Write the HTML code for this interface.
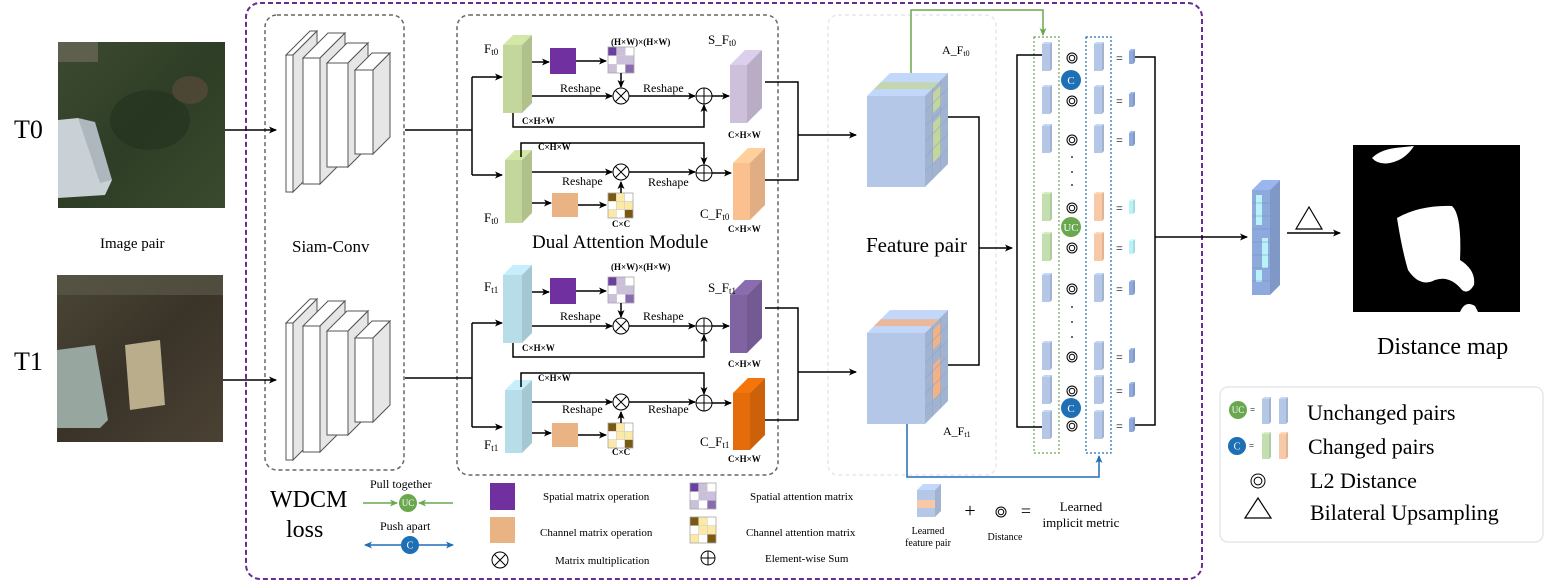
<!DOCTYPE html>
<html><head><meta charset="utf-8"><style>
html,body{margin:0;padding:0;background:#fff;}
svg{display:block;font-family:"Liberation Serif",serif;}
.b{font-weight:bold;font-size:9px;}
.r{font-size:12px;}
</style></head><body>
<svg id="s" width="1548" height="585" viewBox="0 0 1548 585" xmlns="http://www.w3.org/2000/svg">
<defs>
<marker id="ak" markerWidth="8" markerHeight="8" refX="7" refY="4" orient="auto" markerUnits="userSpaceOnUse"><path d="M0,0.5 L8,4 L0,7.5 L2,4z" fill="#000"/></marker>
<marker id="ag" markerWidth="8" markerHeight="8" refX="7" refY="4" orient="auto" markerUnits="userSpaceOnUse"><path d="M0,0.5 L8,4 L0,7.5 L2,4z" fill="#6aa84f"/></marker>
<marker id="ab" markerWidth="8" markerHeight="8" refX="7" refY="4" orient="auto" markerUnits="userSpaceOnUse"><path d="M0,0.5 L8,4 L0,7.5 L2,4z" fill="#1f6fb5"/></marker>
<linearGradient id="g0" x1="0" y1="0" x2="1" y2="1"><stop offset="0" stop-color="#3d4a30"/><stop offset=".5" stop-color="#2e3e26"/><stop offset="1" stop-color="#3a4a2e"/></linearGradient>
<linearGradient id="g1" x1="0" y1="0" x2="1" y2="1"><stop offset="0" stop-color="#4a4636"/><stop offset=".5" stop-color="#3a3328"/><stop offset="1" stop-color="#4b4234"/></linearGradient>
</defs>

<!-- frames -->
<rect x="246" y="3" width="956" height="576" rx="14" fill="none" stroke="#6a2d8f" stroke-width="2" stroke-dasharray="5,3"/>
<rect x="265" y="15" width="139" height="455" rx="12" fill="none" stroke="#666" stroke-width="1.5" stroke-dasharray="4,3"/>
<rect x="457" y="15" width="321" height="460" rx="12" fill="none" stroke="#666" stroke-width="1.5" stroke-dasharray="4,3"/>
<rect x="828" y="15" width="168" height="460" rx="10" fill="none" stroke="#e4e8ee" stroke-width="1.5" stroke-dasharray="4,3"/>
<rect x="1220" y="387" width="323" height="155" rx="8" fill="#fff" stroke="#dde3ea" stroke-width="1.2"/>

<!-- images -->
<rect x="58" y="42" width="167" height="166" fill="url(#g0)"/>
<ellipse cx="150" cy="120" rx="40" ry="30" fill="#253420" opacity=".8"/>
<ellipse cx="190" cy="90" rx="18" ry="14" fill="#5a4a3c" opacity=".7"/>
<polygon points="58,120 78,118 112,180 105,195 58,198" fill="#c9d1d6"/>
<polygon points="78,118 95,122 112,180 100,183" fill="#aeb7bd"/>
<rect x="58" y="42" width="40" height="20" fill="#6e6a5a" opacity=".7"/>
<rect x="57" y="275" width="166" height="167" fill="url(#g1)"/>
<polygon points="57,350 95,345 108,420 100,428 57,428" fill="#97a69f"/>
<polygon points="125,345 160,340 165,405 130,410" fill="#b9ad8c"/>
<rect x="57" y="275" width="166" height="20" fill="#5a5848" opacity=".7"/>
<text x="14" y="138" font-size="26">T0</text>
<text x="14" y="370" font-size="26">T1</text>
<text x="100" y="248" font-size="15">Image pair</text>
<text x="292" y="252" font-size="17">Siam-Conv</text>
<text x="532" y="248" font-size="19">Dual Attention Module</text>
<text x="866" y="252" font-size="21">Feature pair</text>
<text x="1377" y="354" font-size="24">Distance map</text>

<g id="shapes"></g>

<g class="b">
<text x="611" y="45">(H×W)×(H×W)</text>
<text x="522" y="124">C×H×W</text>
<text x="538" y="150">C×H×W</text>
<text x="728" y="138">C×H×W</text>
<text x="728" y="232">C×H×W</text>
<text x="612" y="227">C×C</text>
<text x="611" y="270">(H×W)×(H×W)</text>
<text x="522" y="351">C×H×W</text>
<text x="538" y="381">C×H×W</text>
<text x="728" y="367">C×H×W</text>
<text x="728" y="462">C×H×W</text>
<text x="612" y="455">C×C</text>
</g>
<g class="r">
<text x="560" y="92">Reshape</text><text x="643" y="92">Reshape</text>
<text x="562" y="185">Reshape</text><text x="648" y="186">Reshape</text>
<text x="560" y="320">Reshape</text><text x="643" y="320">Reshape</text>
<text x="562" y="413">Reshape</text><text x="648" y="413">Reshape</text>
</g>
<g font-size="13">
<text x="484" y="53">F<tspan font-size="9" dy="2">t0</tspan></text>
<text x="484" y="222">F<tspan font-size="9" dy="2">t0</tspan></text>
<text x="708" y="44">S_F<tspan font-size="9" dy="2">t0</tspan></text>
<text x="700" y="218">C_F<tspan font-size="9" dy="2">t0</tspan></text>
<text x="484" y="291">F<tspan font-size="9" dy="2">t1</tspan></text>
<text x="484" y="449">F<tspan font-size="9" dy="2">t1</tspan></text>
<text x="708" y="292">S_F<tspan font-size="9" dy="2">t1</tspan></text>
<text x="700" y="446">C_F<tspan font-size="9" dy="2">t1</tspan></text>
<text x="942" y="54" font-size="12">A_F<tspan font-size="8" dy="2">t0</tspan></text>
<text x="943" y="435" font-size="12">A_F<tspan font-size="8" dy="2">t1</tspan></text>
</g>

<!-- bottom legend -->
<text x="270" y="507" font-size="24">WDCM</text>
<text x="286" y="537" font-size="24">loss</text>
<text x="370" y="488" font-size="12">Pull together</text>
<text x="380" y="530" font-size="12">Push apart</text>
<g font-size="11">
<text x="543" y="500">Spatial matrix operation</text>
<text x="540" y="536">Channel matrix operation</text>
<text x="555" y="564">Matrix multiplication</text>
<text x="750" y="500">Spatial attention matrix</text>
<text x="746" y="536">Channel attention matrix</text>
<text x="765" y="562">Element-wise Sum</text>
</g>
<g font-size="10" text-anchor="middle">
<text x="928" y="534">Learned</text><text x="928" y="546">feature pair</text>
<text x="1005" y="540">Distance</text>
</g>
<text x="970" y="517" font-size="20" text-anchor="middle">+</text>
<text x="1026" y="517" font-size="18" text-anchor="middle">=</text>
<text x="1081" y="511" font-size="13" text-anchor="middle">Learned</text>
<text x="1081" y="527" font-size="13" text-anchor="middle">implicit metric</text>

<text x="1307" y="420" font-size="22">Unchanged pairs</text>
<text x="1308" y="454" font-size="22">Changed pairs</text>
<text x="1310" y="488" font-size="22">L2 Distance</text>
<text x="1310" y="520" font-size="22">Bilateral Upsampling</text>
</svg>
<script>
const NS="http://www.w3.org/2000/svg",G=document.getElementById("shapes");
function el(t,a){const e=document.createElementNS(NS,t);for(const k in a)e.setAttribute(k,a[k]);G.appendChild(e);return e;}
function shade(c,f){const n=parseInt(c.slice(1),16);let r=(n>>16)&255,g=(n>>8)&255,b=n&255;r=Math.round(r*f);g=Math.round(g*f);b=Math.round(b*f);return "rgb("+[r,g,b].map(v=>Math.min(255,v))+")";}
function blk(x,y,w,h,d,c,st,sw){st=st||"none";sw=sw||0;
 el("polygon",{points:`${x},${y} ${x+d},${y-d} ${x+w+d},${y-d} ${x+w},${y}`,fill:shade(c,1.08),stroke:st,"stroke-width":sw});
 el("polygon",{points:`${x+w},${y} ${x+w+d},${y-d} ${x+w+d},${y+h-d} ${x+w},${y+h}`,fill:shade(c,.9),stroke:st,"stroke-width":sw});
 el("rect",{x,y,width:w,height:h,fill:c,stroke:st,"stroke-width":sw});}
function line(pts,col,mk,w){el("polyline",{points:pts.map(p=>p.join(",")).join(" "),fill:"none",stroke:col||"#000","stroke-width":w||1.5,"marker-end":mk?`url(#${mk})`:""});}
function otimes(x,y,r){el("circle",{cx:x,cy:y,r,fill:"#fff",stroke:"#000","stroke-width":1});const k=r*.7;
 el("path",{d:`M${x-k},${y-k}L${x+k},${y+k}M${x+k},${y-k}L${x-k},${y+k}`,stroke:"#000","stroke-width":1});}
function oplus(x,y,r){el("circle",{cx:x,cy:y,r,fill:"#fff",stroke:"#000","stroke-width":1});
 el("path",{d:`M${x-r},${y}L${x+r},${y}M${x},${y-r}L${x},${y+r}`,stroke:"#000","stroke-width":1});}
function grid(x,y,s,cols){const c=s/3;for(let i=0;i<3;i++)for(let j=0;j<3;j++)el("rect",{x:x+j*c,y:y+i*c,width:c,height:c,fill:cols[i*3+j],stroke:"#ccc","stroke-width":.5});el("rect",{x,y,width:s,height:s,fill:"none",stroke:"#999","stroke-width":.6});}
const SP=["#6b3fa0","#cbbfdc","#fff","#fff","#cbbfdc","#cbbfdc","#cbbfdc","#fff","#8b6bb0"];
const CH=["#7a5a10","#fde9a6","#fff","#fff","#fde9a6","#fde9a6","#fde9a6","#fff","#7a5a10"];
function circ(x,y,r,c,t,fs){el("circle",{cx:x,cy:y,r,fill:c});const e=el("text",{x,y:y+fs*.35,"font-size":fs,fill:"#fff","text-anchor":"middle","font-family":"Liberation Serif"});e.textContent=t;}
function l2(x,y,r){el("circle",{cx:x,cy:y,r,fill:"none",stroke:"#000","stroke-width":1});el("circle",{cx:x,cy:y,r:r*.55,fill:"none",stroke:"#000","stroke-width":1});}

line([[225,130],[276,130]],"#000","ak");line([[223,380],[276,380]],"#000","ak");
function slabs(o){const S=[[286,55,7,137,24],[303,58,17,126,25],[327,63,21,104,20],[355,70,18,84,17]];
 for(const s of S)blk(s[0],s[1]+o,s[2],s[3],s[4],"#ffffff","#555",1);}
slabs(0);slabs(268);
line([[405,130],[472,130]]);line([[472,77],[472,175]]);line([[472,77],[502,77]],"#000","ak");line([[472,175],[502,175]],"#000","ak");
line([[405,378],[472,378]]);line([[472,323],[472,427]]);line([[472,323],[502,323]],"#000","ak");line([[472,427],[502,427]],"#000","ak");

function dam(o,fc,sc,cc){
 blk(503,45+o,19,68,10,fc);
 line([[532,62+o],[549,62+o]],"#000","ak");
 el("rect",{x:550,y:48+o,width:26,height:26,fill:"#7030a0"});
 line([[576,61+o],[606,61+o]],"#000","ak");
 grid(608,47+o,26,SP);
 line([[621,73+o],[621,87+o]],"#000","ak");
 line([[532,96+o],[612,96+o]],"#000","ak");
 otimes(621,96+o,8);
 line([[629,96+o],[695,96+o]],"#000","ak");
 oplus(704,96+o,8);
 line([[513,113+o],[513,127+o],[704,127+o],[704,105+o]],"#000","ak");
 line([[712,96+o],[729,96+o]],"#000","ak");
 blk(730,65+o,17,58,15,sc);
 blk(505,160+o,17,63,10,fc);
 line([[521,157+o],[521,143+o],[704,143+o],[704,164+o]],"#000","ak");
 line([[532,172+o],[612,172+o]],"#000","ak");
 otimes(621,172+o,8);
 line([[629,172+o],[695,172+o]],"#000","ak");
 oplus(704,173+o,8);
 line([[712,173+o],[731,173+o]],"#000","ak");
 line([[532,203+o],[551,203+o]],"#000","ak");
 el("rect",{x:552,y:193+o,width:26,height:24,fill:"#e9b384"});
 line([[578,205+o],[606,205+o]],"#000","ak");
 grid(608,193+o,25,CH);
 line([[621,193+o],[621,182+o]],"#000","ak");
 blk(733,163+o,17,57,15,cc);
}
dam(0,"#c3d69b","#ccc0da","#fac090");
dam(230,"#b7dde8","#8064a2","#e46c0a");
line([[765,82],[798,82],[798,180],[765,180]]);line([[798,135],[856,135]],"#000","ak");
line([[765,308],[798,308],[798,420],[765,420]]);line([[798,372],[856,372]],"#000","ak");

function cube(x,y,w,h,d,acc,segs){
 blk(x,y,w,h,d,"#b4c7e7");
 el("polygon",{points:`${x+d*.3},${y-d*.3} ${x+d*.6},${y-d*.6} ${x+w+d*.6},${y-d*.6} ${x+w+d*.3},${y-d*.3}`,fill:acc,opacity:.8});
 const s=x+w;
 for(const g of segs){const a=g[0],b=g[1];
  el("polygon",{points:`${s+d*.35},${y-d*.35+a} ${s+d*.7},${y-d*.7+a} ${s+d*.7},${y-d*.7+b} ${s+d*.35},${y-d*.35+b}`,fill:acc});}
 for(let i=1;i<6;i++)el("line",{x1:s,y1:y+h*i/6,x2:s+d,y2:y+h*i/6-d,stroke:"#8ea6cf","stroke-width":.6});
 for(let i=1;i<3;i++)el("line",{x1:s+d*i/3,y1:y-d*i/3,x2:s+d*i/3,y2:y+h-d*i/3,stroke:"#8ea6cf","stroke-width":.6});
}
cube(867,96,58,91,23,"#c3d69b",[[5,25],[35,75]]);
cube(867,333,58,91,23,"#f4b183",[[5,25],[40,75]]);
line([[948,117],[979,117],[979,365],[948,365]]);line([[979,248],[1012,248]],"#000","ak");
line([[911,73],[911,10],[1043,10],[1043,35]],"#6aa84f","ag");
line([[907,424],[907,477],[1099,477],[1099,456]],"#1f6fb5","ab");
el("rect",{x:1034,y:37,width:25,height:416,fill:"none",stroke:"#6aa84f","stroke-width":1.2,"stroke-dasharray":"2,2"});
el("rect",{x:1086,y:37,width:25,height:416,fill:"none",stroke:"#1f6fb5","stroke-width":1.2,"stroke-dasharray":"2,2"});
line([[1042,55],[1017,55],[1017,427],[1042,427]]);
const rows=[57,100,139,207,247,288,356,390,425];
rows.forEach((y,i)=>{const ch=(i==3||i==4);
 blk(1042,y-13,8,27,2,ch?"#c3dfb0":"#b4c7e7");
 blk(1094,y-13,8,27,2,ch?"#f8c9a6":"#b4c7e7");
 l2(1072,y+1,5);
 const t=el("text",{x:1116,y:y+5,"font-size":12});t.textContent="=";
 blk(1129,y-6,4,13,2,ch?"#b9f3f7":"#8ea9dc");
});
[157,172,185,307,322,337].forEach(y=>el("circle",{cx:1072,cy:y,r:.9,fill:"#000"}));
circ(1071,80,10,"#1f6fb5","C",11);circ(1071,408,10,"#1f6fb5","C",11);circ(1071,227,10,"#6aa84f","UC",11);
line([[1135,57],[1155,57],[1155,425],[1135,425]]);
line([[1155,237],[1247,237]],"#000","ak");
blk(1252,190,18,105,10,"#8ea9dc");
[[1256,195,6,30],[1262,238,6,30],[1256,270,6,12]].forEach(r=>el("rect",{x:r[0],y:r[1],width:r[2],height:r[3],fill:"#b9f3f7"}));
for(let i=1;i<8;i++)el("line",{x1:1252,y1:190+i*13,x2:1270,y2:190+i*13,stroke:"#6f8fc8","stroke-width":.5});
el("polygon",{points:"1309,207 1296,229 1322,229",fill:"none",stroke:"#000","stroke-width":1.2});
line([[1287,233],[1340,233]],"#000","ak");
el("rect",{x:1353,y:145,width:167,height:167,fill:"#000"});
el("path",{d:"M1372,158 Q1380,150 1395,148 L1414,146 Q1405,160 1390,163 Q1378,165 1372,158Z",fill:"#fff"});
el("path",{d:"M1397,218 Q1420,205 1452,206 Q1462,215 1460,260 Q1476,270 1474,285 Q1468,295 1462,290 Q1450,275 1435,280 Q1420,288 1408,270 Q1402,250 1397,218Z",fill:"#fff"});
el("path",{d:"M1460,312 Q1465,300 1475,306 L1478,312Z",fill:"#fff"});
line([[363,503],[397,503]],"#6aa84f","ag");line([[453,503],[419,503]],"#6aa84f","ag");
circ(408,503,9,"#6aa84f","UC",9);
line([[410,545],[365,545]],"#1f6fb5","ab");line([[410,545],[453,545]],"#1f6fb5","ab");
circ(410,545,9,"#1f6fb5","C",10);
el("rect",{x:490,y:483,width:25,height:27,fill:"#7030a0"});
el("rect",{x:490,y:517,width:25,height:26,fill:"#e9b384"});
grid(690,483,26,SP);grid(690,517,26,CH);
otimes(500,560,8);oplus(708,558,7);
blk(917,490,18,27,6,"#b4c7e7");el("rect",{x:917,y:500,width:18,height:8,fill:"#f8c9a6"});
l2(1001,512,5);
circ(1238,410,9,"#6aa84f","UC",9);el("text",{x:1250,y:413,"font-size":9}).textContent="=";
blk(1262,399,7,25,2,"#b4c7e7");blk(1279,399,7,25,2,"#b4c7e7");
circ(1237,446,9,"#1f6fb5","C",10);el("text",{x:1249,y:449,"font-size":9}).textContent="=";
blk(1262,434,7,25,2,"#c3dfb0");blk(1279,434,7,25,2,"#f8c9a6");
l2(1258,481,7);
el("polygon",{points:"1258,498 1245,518 1271,518",fill:"none",stroke:"#000","stroke-width":1.2});
</script>
</body></html>
